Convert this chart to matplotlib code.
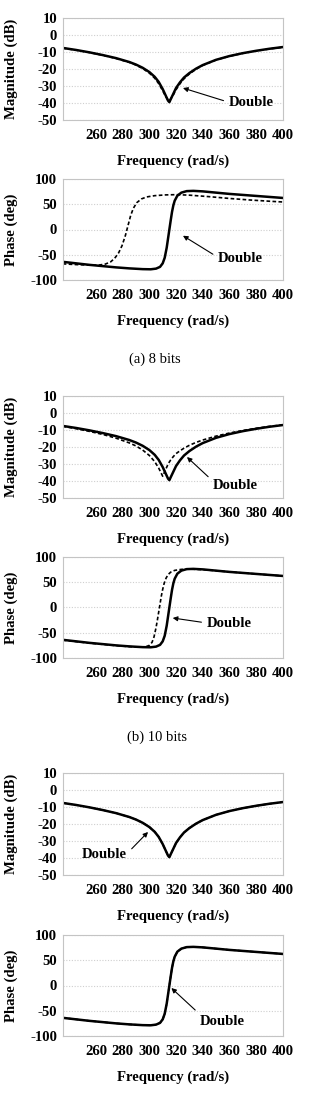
import matplotlib
matplotlib.use('Agg')
import matplotlib.pyplot as plt

# -------------------- fonts --------------------
plt.rcParams['font.family'] = ['Liberation Serif', 'DejaVu Serif']
plt.rcParams['axes.unicode_minus'] = False

# -------------------- data --------------------
# magnitude response (dB)
freq_mag = [235, 245, 255, 265, 275, 285, 290, 295, 300, 304, 307, 310, 312, 314, 315,
            316, 318, 320, 323, 326, 330, 335, 340, 350, 360, 370, 380, 390, 400]
mag_double = [-7.6, -8.8, -10.2, -11.8, -13.6, -15.9, -17.4, -19.3, -21.8, -24.6, -27.6, -31.8,
              -35.2, -38.6, -39.5, -37.8, -34.5, -31.2, -27.8, -25.0, -22.4, -19.8, -17.7,
              -14.6, -12.4, -10.7, -9.3, -8.1, -7.1]
mag_8bit = [-7.7, -8.9, -10.3, -11.9, -13.8, -16.1, -17.7, -19.7, -22.4, -25.4, -28.6, -32.8,
            -35.8, -38.2, -38.6, -37.6, -35.2, -32.2, -28.6, -25.7, -22.9, -20.1, -17.9,
            -14.7, -12.5, -10.8, -9.4, -8.2, -7.2]
mag_10bit = [-7.8, -9.2, -10.8, -12.6, -14.8, -17.6, -19.4, -21.8, -25.0, -28.6, -32.4, -37.2,
             -33.6, -30.2, -28.8, -27.6, -25.6, -23.9, -22.2, -20.7, -19.0, -17.3, -15.9,
             -13.6, -11.8, -10.3, -9.0, -7.9, -7.0]
mag_3rd = [-7.6, -8.8, -10.2, -11.8, -13.6, -15.9, -17.4, -19.3, -21.8, -24.6, -27.6, -31.8,
           -35.2, -38.6, -39.4, -37.8, -34.5, -31.2, -27.8, -25.0, -22.4, -19.8, -17.7,
           -14.6, -12.4, -10.7, -9.3, -8.1, -7.1]

# phase response (deg)
freq_ph_double = [235, 245, 255, 265, 275, 285, 295, 301, 305, 308, 310, 311.5, 313, 314, 315,
                  316, 317, 318, 319, 321, 324, 328, 333, 340, 350, 360, 370, 380, 390, 400]
ph_double = [-64, -67, -70, -72.5, -75, -77, -78.5, -78.8, -77.5, -74, -67, -56, -36, -18, 0,
             18, 35, 48, 57, 67, 73, 76, 76.5, 75.5, 73, 70.5, 68.5, 66.5, 64.5, 62.5]
ph_3rd = [-64, -67, -70, -72.5, -75, -77, -78.5, -78.8, -77.5, -74, -67, -56, -36, -18, 0,
          18, 35, 48, 57, 67, 73, 76, 76.5, 75.5, 73, 70.5, 68.5, 66.5, 64.5, 62.5]

freq_ph_8bit = [235, 245, 255, 262, 267, 271, 274, 277, 279.5, 282, 284, 286, 288, 290.5,
                294, 298, 304, 312, 320, 330, 345, 360, 375, 390, 400]
ph_8bit = [-68, -69.5, -70.5, -70.5, -68.5, -64, -57, -46, -32, -12, 8, 28, 42, 53,
           60.5, 64.5, 67, 68.5, 69, 68, 65, 61.5, 58.5, 56, 54.5]

freq_ph_10bit = [235, 245, 255, 265, 275, 285, 293, 297, 300, 302, 303.5, 305, 306, 307, 308,
                 309, 310, 311, 312.5, 314, 316, 319, 324, 330, 340, 350, 360, 370, 380, 390, 400]
ph_10bit = [-64.5, -67.5, -70.5, -73, -75.5, -77.5, -78.5, -78, -75, -69, -58, -40, -25, -9, 7,
            23, 36, 47, 58, 65, 70, 73.5, 75.5, 76, 75, 72.8, 70.5, 68.5, 66.5, 64.5, 62.5]

x_ticks = [260, 280, 300, 320, 340, 360, 380, 400]
mag_ticks = [10, 0, -10, -20, -30, -40, -50]
ph_ticks = [100, 50, 0, -50, -100]

captions = ['(a) 8 bits', '(b) 10 bits']

# -------------------- helpers --------------------
BOLD = dict(fontsize=10.6, fontweight='bold')
GRID_C = '#cfcfcf'


def style_axes(ax, yticks, ylabel):
    ax.set_xlim(235, 400)
    ax.set_ylim(yticks[-1], yticks[0])
    ax.set_xticks(x_ticks)
    ax.set_yticks(yticks)
    ax.set_xticklabels([str(t) for t in x_ticks], **BOLD)
    ax.set_yticklabels([str(t) for t in yticks], **BOLD)
    ax.tick_params(axis='x', length=0, pad=6.5)
    ax.tick_params(axis='y', length=0, pad=4)
    ax.yaxis.grid(True, color=GRID_C, linestyle=(0, (1, 1.5)), linewidth=0.8)
    ax.set_axisbelow(True)
    for sp in ax.spines.values():
        sp.set_color('#c4c4c4')
        sp.set_linewidth(0.8)
    ax.set_xlabel('Frequency (rad/s)', labelpad=9, **BOLD)
    ax.set_ylabel(ylabel, **BOLD)
    ax.yaxis.set_label_coords(-0.203, 0.5)


def add_note(ax, tip, text_pos, ha='left', relpos=(0, 0.5)):
    ax.annotate('Double', xy=tip, xytext=text_pos, ha=ha, va='center', **BOLD,
                arrowprops=dict(arrowstyle='-|>', color='black', lw=0.8,
                                mutation_scale=7, shrinkA=2, shrinkB=0, relpos=relpos))


def draw(ax, fx, y_dbl, fq, y_q):
    ax.plot(fq, y_q, color='black', lw=1.2, linestyle=(0, (2.2, 1.4)))
    ax.plot(fx, y_dbl, color='black', lw=1.8)


# -------------------- figure --------------------
fig = plt.figure(figsize=(3.15, 10.98), dpi=100)

L, W = 62.7 / 315, 220 / 315
H = 1098.0
# (top, bottom) of each plot area in pixels
boxes = [(18, 120), (179, 280), (396, 498), (557, 658), (773, 875), (935, 1036)]
axs = [fig.add_axes([L, 1 - b / H, W, (b - t) / H]) for t, b in boxes]

# (a) 8 bits
draw(axs[0], freq_mag, mag_double, freq_mag, mag_8bit)
style_axes(axs[0], mag_ticks, 'Magnitude (dB)')
add_note(axs[0], (325.2, -31.2), (359.7, -39.6))

draw(axs[1], freq_ph_double, ph_double, freq_ph_8bit, ph_8bit)
style_axes(axs[1], ph_ticks, 'Phase (deg)')
add_note(axs[1], (325.2, -12.3), (351.5, -57.8), relpos=(0, 0.6))

# (b) 10 bits
draw(axs[2], freq_mag, mag_double, freq_mag, mag_10bit)
style_axes(axs[2], mag_ticks, 'Magnitude (dB)')
add_note(axs[2], (328.2, -25.9), (347.7, -42.4), relpos=(0, 0.8))

draw(axs[3], freq_ph_double, ph_double, freq_ph_10bit, ph_10bit)
style_axes(axs[3], ph_ticks, 'Phase (deg)')
add_note(axs[3], (317.5, -20.8), (343.2, -30.7))

# third word length (curves overlap)
draw(axs[4], freq_mag, mag_double, freq_mag, mag_3rd)
style_axes(axs[4], mag_ticks, 'Magnitude (dB)')
add_note(axs[4], (299, -24.7), (283.2, -38.2), ha='right', relpos=(1, 0.6))

draw(axs[5], freq_ph_double, ph_double, freq_ph_double, ph_3rd)
style_axes(axs[5], ph_ticks, 'Phase (deg)')
add_note(axs[5], (316.5, -5), (338, -70.3), relpos=(0, 1.0))

fig.text(155 / 315, 1 - 359 / H, captions[0], ha='center', va='center', fontsize=10.5)
fig.text(157 / 315, 1 - 737 / H, captions[1], ha='center', va='center', fontsize=10.5)

fig.savefig('out.png', dpi=100)
